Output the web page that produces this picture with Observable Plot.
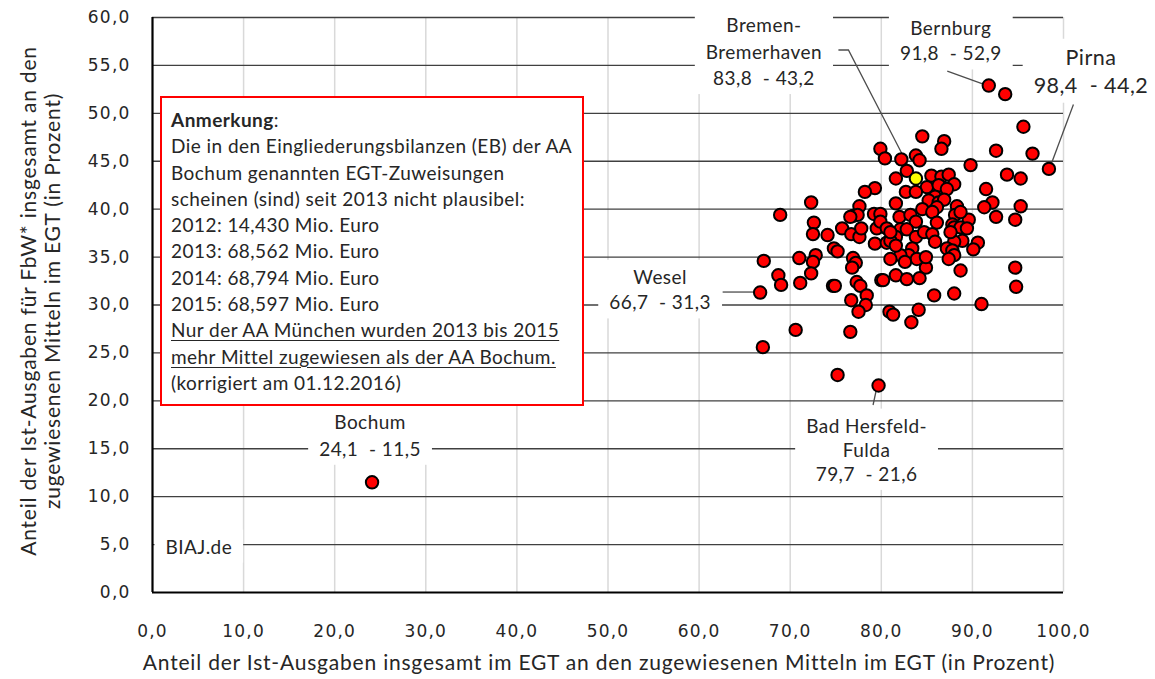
<!DOCTYPE html>
<html><head><meta charset="utf-8">
<script src="https://cdn.jsdelivr.net/npm/d3@7"></script>
<script src="https://cdn.jsdelivr.net/npm/@observablehq/plot@0.6"></script>
<style>
body{margin:0;background:#fff;}
#wrap{position:relative;width:1155px;height:679px;overflow:hidden;}
#note{position:absolute;left:160px;top:96px;width:424px;height:310px;box-sizing:border-box;border:2px solid #ff0000;background:#fff;
 font-family:Lato,"Open Sans",sans-serif;font-size:19px;letter-spacing:0.45px;line-height:26.3px;color:#262626;padding:9px 0 0 9px;white-space:nowrap;}
#note u{text-decoration:underline;text-decoration-thickness:1px;text-underline-offset:3px;}
</style></head>
<body><div id="wrap"></div>
<script>
// ---- data: Agenturen für Arbeit (x = Anteil Ist-Ausgaben EGT, y = Anteil FbW) ----
const pointX = [
93.6,95.6,92.6,96.6,89.8,93.8,95.3,91.5,92.2,91.3,95.3,92.6,94.7,89.6,90.6,90.1,88.7,88.0,91.0,94.7,94.8,85.8,84.1,83.3,
84.5,86.9,86.6,79.9,80.4,82.2,83.8,84.2,82.8,81.6,85.5,86.6,87.4,88.0,85.0,86.3,87.2,82.7,83.8,85.9,85.2,86.3,86.9,81.6,84.5,86.1,85.6,88.3,
82.0,83.2,83.8,86.1,88.1,88.7,87.8,82.1,82.8,81.6,83.8,84.7,85.6,85.9,88.0,88.7,89.4,88.9,88.0,83.4,83.0,82.1,81.0,84.7,84.9,83.9,82.6,87.2,87.8,88.0,87.4,81.6,82.8,84.2,87.6,84.9,
79.3,78.2,72.3,77.6,76.9,77.4,79.2,79.9,72.6,75.7,68.9,72.5,74.1,76.7,77.6,77.8,79.5,79.9,80.6,79.3,80.6,81.0,81.6,81.0,74.8,75.2,76.9,77.2,76.8,72.8,72.5,71.0,72.3,71.1,74.7,77.3,77.7,78.4,78.3,76.7,77.5,80.0,80.9,81.3,67.1,68.7,69.0,70.6,76.6,67.0,75.2,80.2,76.6,74.9
];
const pointY = [
52.0,48.6,46.1,45.8,44.6,43.6,43.2,42.1,40.7,40.2,40.3,39.2,38.9,38.9,36.5,35.8,33.6,31.2,30.1,33.9,31.9,31.0,29.5,28.2,
47.6,47.1,46.3,46.3,45.3,45.2,45.6,45.1,44.0,43.2,43.5,43.4,43.6,42.6,42.3,42.5,42.1,41.8,41.8,41.3,40.9,40.7,41.0,40.6,40.0,40.2,39.7,40.3,
39.2,39.4,38.7,38.6,39.4,39.7,38.4,37.9,37.9,37.1,37.1,37.6,37.4,36.6,38.1,38.1,38.0,36.7,36.6,35.9,35.2,35.2,34.8,34.8,33.9,34.8,34.5,35.9,35.7,35.2,34.8,33.1,32.7,32.8,37.6,35.0,
42.2,41.8,40.7,40.3,39.3,39.4,39.5,39.5,38.6,38.0,39.4,37.4,37.3,37.4,37.1,38.0,38.0,38.7,38.0,36.4,36.5,36.7,36.2,37.6,35.9,35.6,34.9,34.4,33.9,35.2,34.5,34.9,33.3,32.3,32.0,32.4,32.0,31.0,30.0,30.5,29.3,32.6,29.3,29.0,34.6,33.1,32.1,27.4,27.2,25.6,22.7,32.6,39.2,32.0
];
// labelled agencies
const labelNames = ["Bochum", "Bad Hersfeld-Fulda", "Wesel", "Bremen-Bremerhaven", "Bernburg", "Pirna"];
const labelShown = ["Bochum", "Bad Hersfeld-\nFulda", "Wesel", "Bremen-\nBremerhaven", "Bernburg", "Pirna"];
const labelX = [24.1, 79.7, 66.7, 83.8, 91.8, 98.4];
const labelY = [11.5, 21.6, 31.3, 43.2, 52.9, 44.2];
const highlighted = ["Bremen-Bremerhaven"];
const xTicks = [0, 10, 20, 30, 40, 50, 60, 70, 80, 90, 100];
const yTicks = [0, 5, 10, 15, 20, 25, 30, 35, 40, 45, 50, 55, 60];
const xTitle = "Anteil der Ist-Ausgaben insgesamt im EGT an den zugewiesenen Mitteln im EGT (in Prozent)";
const yTitle = "Anteil der Ist-Ausgaben für FbW* insgesamt an den\nzugewiesenen Mitteln im EGT (in Prozent)";
const source = "BIAJ.de";
const noteHtml = `<b>Anmerkung</b>:<br>Die in den Eingliederungsbilanzen (EB) der AA<br>Bochum genannten EGT-Zuweisungen<br>scheinen (sind) seit 2013 nicht plausibel:<br>2012: 14,430 Mio. Euro<br>2013: 68,562 Mio. Euro<br>2014: 68,794 Mio. Euro<br>2015: 68,597 Mio. Euro<br><u>Nur der AA München wurden 2013 bis 2015</u><br><u>mehr Mittel zugewiesen als der AA Bochum.</u><br>(korrigiert am 01.12.2016)`;

// ---- build tables ----
const fmt = v => v.toFixed(1).replace(".", ",");
const points = pointX.map((x, i) => ({x, y: pointY[i]}));
const labelled = labelNames.map((n, i) => ({name: n, shown: labelShown[i], x: labelX[i], y: labelY[i],
  text: labelShown[i] + "\n" + fmt(labelX[i]) + "  - " + fmt(labelY[i])}));

// styling: label offsets (px) from its point, leader paths (px, relative to point)
const labelStyle = {
  "Bochum":             {dx: -2,   dy: -72,  size: 19, lh: 1.4},
  "Bad Hersfeld-Fulda": {dx: -12,  dy: 30,   size: 19, lh: 1.27},
  "Wesel":              {dx: -100, dy: -27,  size: 19, lh: 1.35},
  "Bremen-Bremerhaven": {dx: -152, dy: -165, size: 19, lh: 1.39},
  "Bernburg":           {dx: -38,  dy: -68,  size: 19, lh: 1.32},
  "Pirna":              {dx: 42,   dy: -124, size: 21.5, lh: 1.3}
};
const leaders = {
  "Bad Hersfeld-Fulda": [[-5, 20], [-2, 6]],
  "Wesel": [[-37, 0], [-6, 0]],
  "Bremen-Bremerhaven": [[-77, -128], [-67, -128], [-3, -4]],
  "Bernburg": [[-41, -14], [-5, -1]],
  "Pirna": [[25, -64], [3, -5]]
};

const labelMarks = labelled.map(d => {
  const s = labelStyle[d.name];
  return Plot.text([d], {x: "x", y: "y", text: "text", dx: s.dx, dy: s.dy, lineAnchor: "top",
    fontSize: s.size, lineHeight: s.lh, fill: "#262626", fontFamily: "Lato"});
});

const plot = Plot.plot({
  width: 1155, height: 679,
  marginLeft: 152, marginRight: 92, marginTop: 17, marginBottom: 87,
  style: {fontFamily: "Lato, sans-serif", fontSize: "17px", background: "white", overflow: "visible"},
  x: {domain: [0, 100]},
  y: {domain: [0, 60]},
  marks: [
    Plot.ruleX(xTicks.slice(1), {stroke: "#d9d9d9", strokeWidth: 1.5}),
    Plot.ruleY(yTicks.slice(1), {stroke: "#404040", strokeWidth: 1.4}),
    Plot.ruleX([0], {stroke: "#000", strokeWidth: 2.2}),
    Plot.ruleY([0], {stroke: "#000", strokeWidth: 2.2}),
    Plot.axisX({ticks: xTicks, tickFormat: fmt, tickSize: 0, tickPadding: 32, fontFamily: "DejaVu Sans", fontSize: 17, fill: "#262626", label: null}),
    Plot.axisY({ticks: yTicks, tickFormat: fmt, tickSize: 0, tickPadding: 22, fontFamily: "DejaVu Sans", fontSize: 17, fill: "#262626", label: null}),
    Plot.text([xTitle], {frameAnchor: "bottom", text: d => d, dx: -9, dy: 71, lineAnchor: "middle", fontSize: 21, fill: "#262626", fontFamily: "Lato"}),
    Plot.text([yTitle], {frameAnchor: "left", text: d => d, dx: -112, dy: -4, rotate: -90, textAnchor: "middle", lineAnchor: "middle", fontSize: 21, lineHeight: 1.15, fill: "#262626", fontFamily: "Lato"}),
    Plot.text([source], {frameAnchor: "bottom-left", text: d => d, dx: 13, dy: -45, textAnchor: "start", lineAnchor: "middle", fontSize: 19, fill: "#262626", fontFamily: "Lato"}),
    ...labelMarks,
    Plot.dot(points, {x: "x", y: "y", r: 6.2, fill: "#ff0000", stroke: "#000", strokeWidth: 2}),
    Plot.dot(labelled, {x: "x", y: "y", r: 6.2, fill: d => highlighted.includes(d.name) ? "#ffff00" : "#ff0000", stroke: "#000", strokeWidth: 2})
  ],
  color: {type: "identity"}
});

const wrap = document.getElementById("wrap");
wrap.appendChild(plot);
const note = document.createElement("div");
note.id = "note";
note.innerHTML = noteHtml;
wrap.appendChild(note);

const svg = plot;
// letter spacing for the Calibri-like texts and wide Excel tick font
svg.querySelectorAll('g[aria-label="x-axis tick label"] text, g[aria-label="y-axis tick label"] text').forEach(t => t.setAttribute("letter-spacing", "1.2"));
const titleSet = new Set([xTitle.replace(/\n/g, ""), yTitle.replace(/\n/g, "")]);
const boxedSet = new Set([source, ...labelled.map(d => d.text.replace(/\n/g, ""))]);
svg.querySelectorAll('g[aria-label="text"] text').forEach(t => {
  const c = t.textContent;
  if (titleSet.has(c)) t.setAttribute("letter-spacing", "0.8");
  else if (boxedSet.has(c)) t.setAttribute("letter-spacing", "0.45");
});

// white boxes behind labels (cut grid lines) and leader lines
const sr = svg.getBoundingClientRect();
const NS = "http://www.w3.org/2000/svg";
svg.querySelectorAll('g[aria-label="text"]').forEach(g => {
  const t0 = g.querySelector("text");
  if (!t0 || !boxedSet.has(t0.textContent)) return;
  const bg = document.createElementNS(NS, "g");
  g.parentNode.insertBefore(bg, g);
  g.querySelectorAll("text").forEach(t => {
    const b = t.getBoundingClientRect();
    const r = document.createElementNS(NS, "rect");
    r.setAttribute("x", b.left - sr.left - 11);
    r.setAttribute("y", b.top - sr.top - 5);
    r.setAttribute("width", b.width + 22);
    r.setAttribute("height", b.height + 10);
    r.setAttribute("fill", "white");
    bg.appendChild(r);
  });
});
const sx = plot.scale("x"), sy = plot.scale("y");
const firstDot = svg.querySelector('g[aria-label="dot"]');
const lg = document.createElementNS(NS, "g");
firstDot.parentNode.insertBefore(lg, firstDot);
labelled.forEach(d => {
  const L = leaders[d.name];
  if (!L) return;
  const px = sx.apply(d.x), py = sy.apply(d.y);
  const p = document.createElementNS(NS, "path");
  p.setAttribute("d", "M" + L.map(([a, b]) => (px + a) + "," + (py + b)).join("L"));
  p.setAttribute("fill", "none");
  p.setAttribute("stroke", "#4d4d4d");
  p.setAttribute("stroke-width", "1.3");
  lg.appendChild(p);
});
</script>
</body></html>
